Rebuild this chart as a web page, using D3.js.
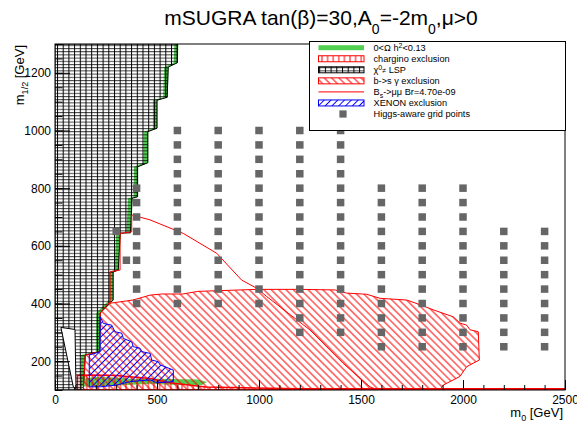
<!DOCTYPE html>
<html>
<head>
<meta charset="utf-8">
<script src="https://cdn.jsdelivr.net/npm/d3@7"></script>
<style>
  body { margin: 0; background: #fff; }
  svg { display: block; font-family: "Liberation Sans", Arial, Helvetica, sans-serif; }
</style>
</head>
<body>
<svg id="chart" width="577" height="426"></svg>
<script>
// ---- axis ticks ----
const xTicks = [0, 500, 1000, 1500, 2000, 2500];
const yTicks = [200, 400, 600, 800, 1000, 1200];

// ---- regions in the (m0, m1/2) plane, GeV ----
// right-hand edge of the region where the neutralino is not the LSP
const lspRegion = [
  [0, 1300], [600, 1300], [600, 1235], [555, 1220], [550, 1115], [500, 1105], [500, 1008],
  [455, 996], [455, 888], [405, 874], [405, 770], [378, 765], [370, 645], [320, 644],
  [310, 516], [285, 509], [285, 412], [222, 367], [218, 233], [148, 221], [140, 117],
  [140, 100], [0, 100]
];
// allowed pocket inside the LSP region
const lspHole = [[29, 317], [98, 310], [103, 106], [90, 110]];

// relic density band 0 < Omega h^2 < 0.13
const relicEdge = [
  [605, 1300], [602, 1235], [557, 1220], [552, 1115], [502, 1105], [502, 1008], [457, 996],
  [457, 888], [407, 874], [407, 770], [380, 765], [372, 645], [322, 644], [312, 516],
  [287, 509], [287, 412], [224, 367], [222, 233], [152, 221], [145, 112],
  [125, 112], [128, 221], [200, 233], [202, 367], [265, 412], [265, 509], [292, 516],
  [300, 644], [350, 645], [358, 765], [385, 770], [387, 874], [435, 888], [437, 996],
  [480, 1008], [480, 1105], [530, 1115], [535, 1220], [582, 1235], [585, 1300]
];
const relicLow = [
  [145, 112], [145, 140], [200, 145], [300, 143], [380, 138], [470, 140], [560, 138],
  [700, 136], [745, 128], [720, 117], [560, 118], [470, 122], [380, 118], [300, 116], [200, 113]
];

// chargino mass limit
const charginoRegion = [
  [110, 100], [110, 150], [170, 152], [300, 150], [380, 145], [470, 140], [560, 125],
  [740, 110], [1200, 104], [2500, 104], [2500, 100]
];

// b -> s gamma exclusion
const bsgRegion = [
  [260, 400], [382, 412], [466, 429], [523, 433], [627, 433], [700, 442], [990, 449],
  [1200, 449], [1373, 447], [1430, 436], [1528, 432], [1593, 418], [1724, 412],
  [1789, 396], [1854, 378], [1952, 354], [1985, 332], [2018, 325], [2034, 309],
  [2075, 302], [2080, 204], [2018, 181], [1985, 147], [1903, 117], [1887, 100],
  [140, 100], [140, 117], [148, 221], [218, 233], [222, 367]
];

// Bs -> mu mu contour, Br = 4.70e-09
const bsmumuLine = [
  [260, 400], [270, 401], [270, 510], [319, 516], [319, 643], [376, 649], [376, 707],
  [466, 690], [629, 643], [793, 574], [915, 481], [989, 453], [1038, 424],
  [1250, 308], [1413, 192], [1544, 111], [1583, 100]
];

// XENON direct-detection exclusion
const xenonRegion = [
  [221, 354], [237, 331], [278, 325], [294, 302], [327, 297], [335, 279], [376, 267],
  [384, 250], [417, 245], [425, 233], [466, 227], [474, 204], [506, 198], [515, 187],
  [539, 181], [580, 169], [580, 129], [499, 125], [466, 135], [368, 129], [302, 117],
  [221, 111], [168, 111], [168, 221], [221, 233]
];

// Higgs-aware grid points: one m1/2 list per m0 column
const gridM0 = [300, 350, 400, 600, 800, 1000, 1200, 1400, 1600, 1800, 2000, 2200, 2400];
const gridM12 = [
  [650],
  [550],
  [400, 450, 500, 550, 600, 650, 700, 750, 800],
  [400, 450, 500, 550, 600, 650, 700, 750, 800, 850, 900, 950, 1000],
  [400, 450, 500, 550, 600, 650, 700, 750, 800, 850, 900, 950, 1000],
  [400, 450, 500, 550, 600, 650, 700, 750, 800, 850, 900, 950, 1000],
  [300, 350, 400, 450, 500, 550, 600, 650, 700, 750, 800, 850, 900, 950, 1000],
  [300, 350, 400, 450, 500, 550, 600, 650, 700, 750, 800, 850, 900, 950, 1000],
  [250, 300, 350, 400, 450, 500, 550, 600, 650, 700, 750, 800],
  [250, 300, 350, 400, 450, 500, 550, 600, 650, 700, 750, 800],
  [250, 300, 350, 400, 450, 500, 550, 600, 650, 700, 750, 800],
  [250, 300, 350, 400, 450, 500, 550, 600, 650],
  [250, 300, 350, 400, 450, 500, 550, 600, 650]
];

// ---- layout ----
const svg = d3.select("#chart");
const plotL = 55, plotR = 565, plotT = 44, plotB = 390;
const x = d3.scaleLinear().domain([0, 2500]).range([plotL, plotR]);
const y = d3.scaleLinear().domain([100, 1300]).range([plotB, plotT]);

const RED = "#ff0000", BLUE = "#0000ff", GREEN = "#52d052", GREY = "#666666";

// ---- fill patterns ----
const defs = svg.append("defs");
defs.append("clipPath").attr("id", "plotClip")
  .append("rect").attr("x", plotL).attr("y", plotT).attr("width", plotR - plotL).attr("height", plotB - plotT);

const lspPat = defs.append("pattern").attr("id", "lspPat")
  .attr("patternUnits", "userSpaceOnUse").attr("width", 5.7).attr("height", 3.2);
lspPat.append("line").attr("x1", 0).attr("x2", 5.7).attr("y1", 0.5).attr("y2", 0.5)
  .attr("stroke", "#000").attr("stroke-width", 1).attr("stroke-opacity", 0.75);
lspPat.append("line").attr("x1", 0.5).attr("x2", 0.5).attr("y1", 0).attr("y2", 3.2)
  .attr("stroke", "#000").attr("stroke-width", 1);

function hatch(id, color, spacing, angle) {
  const p = defs.append("pattern").attr("id", id)
    .attr("patternUnits", "userSpaceOnUse")
    .attr("width", spacing).attr("height", 10)
    .attr("patternTransform", `rotate(${angle})`);
  p.append("line").attr("x1", spacing / 2).attr("x2", spacing / 2)
    .attr("y1", 0).attr("y2", 10).attr("stroke", color).attr("stroke-width", 1);
}
hatch("bsgPat", RED, 5.2, -45);
hatch("xenPat", BLUE, 4.8, 45);
hatch("chaPat", RED, 5.6, 0);

// ---- regions ----
const line = d3.line().x(d => x(d[0])).y(d => y(d[1]));
const area = d3.line().x(d => x(d[0])).y(d => y(d[1])).curve(d3.curveLinearClosed);
const plot = svg.append("g").attr("clip-path", "url(#plotClip)");

plot.append("path").attr("d", area(relicEdge)).attr("fill", GREEN);
plot.append("path").attr("d", area(relicLow)).attr("fill", GREEN);

plot.append("path").attr("d", area(charginoRegion))
  .attr("fill", "url(#chaPat)").attr("stroke", RED).attr("stroke-width", 1.5);

plot.append("path").attr("d", area(lspRegion))
  .attr("fill", "url(#lspPat)").attr("stroke", "#000").attr("stroke-width", 1);
plot.append("path").attr("d", area(lspHole))
  .attr("fill", "#fff").attr("stroke", "#000").attr("stroke-width", 1);

plot.append("path").attr("d", area(bsgRegion))
  .attr("fill", "url(#bsgPat)").attr("stroke", RED).attr("stroke-width", 1);

plot.append("path").attr("d", area(xenonRegion))
  .attr("fill", "url(#xenPat)").attr("stroke", BLUE).attr("stroke-width", 1);

plot.append("path").attr("d", line(bsmumuLine))
  .attr("fill", "none").attr("stroke", RED).attr("stroke-width", 1);

// grid points
const pts = gridM0.flatMap((m0, i) => gridM12[i].map(m12 => [m0, m12]));
const sq = 7.5;
plot.selectAll("rect.pt").data(pts).join("rect").attr("class", "pt")
  .attr("x", d => x(d[0]) - sq / 2).attr("y", d => y(d[1]) - sq / 2)
  .attr("width", sq).attr("height", sq).attr("fill", GREY);

// ---- axes (ticks point inward) ----
const xMinor = d3.range(0, 2501, 100);
const yMinor = d3.range(100, 1301, 50);

svg.append("g").attr("transform", `translate(0,${plotB})`)
  .call(d3.axisBottom(x).tickValues(xMinor).tickSize(-5).tickFormat(""))
  .call(g => g.select(".domain").remove());
svg.append("g").attr("transform", `translate(0,${plotB})`)
  .call(d3.axisBottom(x).tickValues(xTicks).tickSize(-10).tickPadding(5).tickFormat(d3.format("d")))
  .call(g => g.select(".domain").remove())
  .call(g => g.selectAll("text").style("font-size", "12px").attr("fill", "#000")
    .style("font-family", "'Liberation Sans', Arial, sans-serif"));

svg.append("g").attr("transform", `translate(${plotL},0)`)
  .call(d3.axisLeft(y).tickValues(yMinor).tickSize(-7.5).tickFormat(""))
  .call(g => g.select(".domain").remove());
svg.append("g").attr("transform", `translate(${plotL},0)`)
  .call(d3.axisLeft(y).tickValues(yTicks).tickSize(-15).tickPadding(4).tickFormat(d3.format("d")))
  .call(g => g.select(".domain").remove())
  .call(g => g.selectAll("text").style("font-size", "12px").attr("fill", "#000")
    .style("font-family", "'Liberation Sans', Arial, sans-serif"));

svg.append("rect").attr("x", plotL).attr("y", plotT)
  .attr("width", plotR - plotL).attr("height", plotB - plotT)
  .attr("fill", "none").attr("stroke", "#000").attr("stroke-width", 1);

// ---- titles ----
const title = svg.append("text").attr("x", 321).attr("y", 25)
  .attr("text-anchor", "middle").style("font-size", "21px");
title.append("tspan").text("mSUGRA tan(β)=30,A");
title.append("tspan").attr("dy", 9).style("font-size", "14px").text("0");
title.append("tspan").attr("dy", -9).text("=-2m");
title.append("tspan").attr("dy", 9).style("font-size", "14px").text("0");
title.append("tspan").attr("dy", -9).text(",μ>0");

const xt = svg.append("text").attr("x", 563).attr("y", 417)
  .attr("text-anchor", "end").style("font-size", "13px");
xt.append("tspan").text("m");
xt.append("tspan").attr("dy", 4).style("font-size", "9px").text("0");
xt.append("tspan").attr("dy", -4).text(" [GeV]");

const yt = svg.append("text").attr("transform", "translate(24,45) rotate(-90)")
  .attr("text-anchor", "end").style("font-size", "13px");
yt.append("tspan").text("m");
yt.append("tspan").attr("dy", 4).style("font-size", "9px").text("1/2");
yt.append("tspan").attr("dy", -4).text(" [GeV]");

// ---- legend ----
const lg = svg.append("g");
const lgX = 309.5, lgY = 41.5, lgW = 256, lgH = 89;
lg.append("rect").attr("x", lgX).attr("y", lgY).attr("width", lgW).attr("height", lgH)
  .attr("fill", "#fff").attr("stroke", "#000").attr("stroke-width", 1);

const rowY = i => 47.7 + i * 11.05;
const symX = 318.5, symW = 45.5, textX = 373.5;

function boxSym(i, fill, stroke, h) {
  lg.append("rect").attr("x", symX).attr("y", rowY(i) - h / 2).attr("width", symW).attr("height", h)
    .attr("fill", fill).attr("stroke", stroke).attr("stroke-width", stroke === "none" ? 0 : 1);
}
boxSym(0, GREEN, "none", 5);
boxSym(1, "url(#chaPat)", RED, 6);
boxSym(2, "url(#lspPat)", "#000", 6);
boxSym(3, "url(#bsgPat)", RED, 6);
lg.append("line").attr("x1", symX).attr("x2", symX + symW).attr("y1", rowY(4)).attr("y2", rowY(4))
  .attr("stroke", RED).attr("stroke-width", 1);
boxSym(5, "url(#xenPat)", BLUE, 6);
lg.append("rect").attr("x", 343 - 3.6).attr("y", rowY(6) - 3.6).attr("width", 7.2).attr("height", 7.2)
  .attr("fill", GREY);

function legendText(i) {
  return lg.append("text").attr("x", textX).attr("y", rowY(i) + 3.3).style("font-size", "9.2px");
}
let t = legendText(0);
t.append("tspan").text("0<Ω h");
t.append("tspan").attr("dy", -3.5).style("font-size", "7px").text("2");
t.append("tspan").attr("dy", 3.5).text("<0.13");
legendText(1).text("chargino exclusion");
t = legendText(2);
t.append("tspan").text("χ");
t.append("tspan").attr("dy", -3.5).style("font-size", "7px").text("0");
t.append("tspan").attr("dy", 3.5).style("font-size", "7px").text("≠");
t.append("tspan").text(" LSP");
legendText(3).text("b->s γ exclusion");
t = legendText(4);
t.append("tspan").text("B");
t.append("tspan").attr("dy", 2.5).style("font-size", "7px").text("s");
t.append("tspan").attr("dy", -2.5).text("->μμ Br=4.70e-09");
legendText(5).text("XENON exclusion");
legendText(6).text("Higgs-aware grid points");
</script>
</body>
</html>
